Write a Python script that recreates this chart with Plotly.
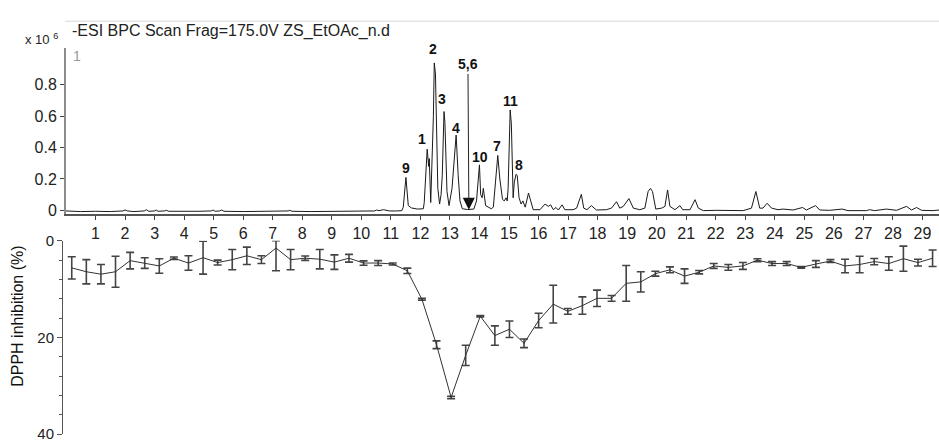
import plotly.graph_objects as go

W, H = 939, 446
FONT = "Liberation Sans, Arial, sans-serif"

# ---------------- BPC chromatogram ----------------
rt_min = [
    0.00, 0.50, 1.00, 1.50, 1.93, 2.00, 2.08, 2.30, 2.65, 2.72,
    2.80, 3.00, 3.05, 3.12, 3.33, 3.40, 3.48, 4.00, 4.50, 4.92,
    4.98, 5.05, 5.20, 5.27, 5.35, 6.00, 6.60, 7.10, 7.52, 7.58,
    7.65, 8.30, 9.00, 9.60, 10.20, 10.45, 10.52, 10.60, 10.75, 10.85,
    10.95, 11.20, 11.37,
    11.42, 11.51, 11.59, 11.70, 11.90, 12.10,
    12.13, 12.23, 12.28, 12.30, 12.35,
    12.39, 12.44, 12.47, 12.51, 12.59, 12.65,
    12.70, 12.74, 12.80, 12.83, 12.90, 12.97,
    13.07, 13.14, 13.21, 13.28, 13.34, 13.42, 13.60, 13.81,
    13.90, 14.00, 14.04, 14.09, 14.13, 14.21, 14.40, 14.47,
    14.52, 14.62, 14.69, 14.78, 14.84, 14.90, 14.94,
    14.97, 15.04, 15.08, 15.14,
    15.18, 15.24, 15.28, 15.34, 15.41, 15.47, 15.55, 15.66, 15.78,
    15.82, 16.05, 16.22, 16.33, 16.41, 16.50, 16.59, 16.67, 16.80, 16.89,
    17.17, 17.29, 17.45, 17.53, 17.64, 17.79, 17.96, 18.30, 18.47, 18.64,
    18.75, 18.87, 19.06, 19.21, 19.43, 19.60, 19.71, 19.79, 19.86, 19.97,
    20.17, 20.28, 20.37, 20.45, 20.62, 20.79, 20.88, 21.13, 21.30, 21.41,
    21.58, 22.03, 22.48, 22.93, 23.21, 23.36, 23.49, 23.60, 23.74, 23.89,
    24.11, 24.28, 24.62, 24.94, 25.07, 25.38, 25.52, 25.86, 26.28, 26.48,
    27.10, 27.21, 27.38, 27.78, 28.12, 28.46, 28.63, 28.80, 28.97, 29.36,
    29.56,
]
bpc_int = [  # x10^6
    -0.004, -0.008, -0.006, -0.008, -0.004, 0.002, -0.004, -0.008, -0.004, 0.004,
    -0.006, -0.004, 0.002, -0.006, -0.004, 0.000, -0.006, -0.008, -0.006, -0.004,
    0.002, -0.006, -0.004, 0.002, -0.006, -0.008, -0.006, -0.008, -0.004, 0.000,
    -0.006, -0.008, -0.006, -0.008, -0.006, -0.004, 0.002, -0.002, 0.004, -0.002,
    -0.004, -0.004, -0.002,
    0.020, 0.210, 0.030, 0.015, 0.008, 0.010,
    0.050, 0.390, 0.280, 0.330, 0.050,
    0.260, 0.600, 0.940, 0.870, 0.140, 0.040,
    0.100, 0.220, 0.630, 0.560, 0.120, 0.030,
    0.140, 0.300, 0.480, 0.220, 0.060, 0.010, 0.005, 0.008,
    0.060, 0.290, 0.100, 0.080, 0.140, 0.030, 0.010, 0.020,
    0.140, 0.350, 0.200, 0.070, 0.060, 0.080, 0.060,
    0.140, 0.640, 0.550, 0.080,
    0.180, 0.230, 0.220, 0.080, 0.040, 0.060, 0.020, 0.110, 0.020,
    0.004, 0.004, 0.040, 0.025, 0.035, 0.004, 0.018, 0.002, 0.035, 0.004,
    0.004, 0.014, 0.102, 0.014, 0.004, 0.030, 0.002, 0.004, 0.014, 0.055,
    0.014, 0.025, 0.075, 0.014, 0.004, 0.014, 0.120, 0.140, 0.120, 0.008,
    0.014, 0.025, 0.130, 0.025, 0.004, 0.030, 0.004, 0.004, 0.068, 0.014,
    -0.002, 0.000, -0.002, -0.002, 0.014, 0.120, 0.014, 0.014, 0.045, 0.014,
    0.004, 0.008, 0.002, 0.018, 0.002, 0.030, 0.002, 0.000, 0.008, -0.002,
    -0.002, 0.004, -0.002, 0.008, 0.000, 0.025, 0.002, 0.018, 0.000, -0.002,
    0.002,
]

peak_names = ["9", "1", "2", "3", "4", "5,6", "10", "7", "11", "8"]
peak_label_rt = [11.51, 12.04, 12.41, 12.74, 13.20, 13.61, 14.01, 14.58, 15.04, 15.33]
peak_label_y = [0.272, 0.457, 1.028, 0.712, 0.528, 0.898, 0.337, 0.409, 0.697, 0.288]
arrow_rt = 13.64

# ---------------- DPPH inhibition of fractions ----------------
fraction_no = list(range(1, 61))
dpph_inhib = [
    5.6, 6.4, 6.9, 6.4, 4.1, 4.6, 5.2, 3.6, 4.6, 3.5,
    4.5, 3.9, 3.1, 3.9, 1.5, 3.9, 3.6, 3.8, 4.4, 3.6,
    4.6, 4.6, 4.8, 6.2, 12.1, 21.5, 32.4, 23.7, 15.6, 19.6,
    18.3, 21.2, 16.5, 13.1, 14.6, 13.4, 11.9, 11.9, 8.8, 8.5,
    6.8, 6.0, 7.3, 6.5, 5.2, 5.5, 5.2, 4.0, 4.7, 4.7,
    5.5, 4.8, 4.2, 5.2, 4.9, 4.3, 4.7, 3.7, 4.5, 3.6,
]
dpph_err = [
    2.3, 2.5, 2.0, 3.2, 1.7, 1.1, 1.5, 0.25, 1.5, 3.4,
    0.5, 2.1, 1.8, 0.8, 4.7, 2.1, 0.45, 2.0, 1.5, 0.8,
    0.45, 0.5, 0.2, 0.55, 0.2, 0.8, 0.25, 2.1, 0.15, 2.0,
    1.7, 0.9, 1.5, 3.9, 0.6, 1.8, 1.7, 0.6, 3.7, 2.1,
    0.5, 0.6, 1.5, 0.35, 0.5, 0.6, 0.7, 0.3, 0.4, 0.4,
    0.15, 0.7, 0.3, 1.4, 1.7, 0.65, 1.4, 2.6, 0.7, 1.7,
]
dpph_err_minus = [
    2.3, 2.5, 2.0, 3.2, 1.7, 1.1, 1.5, 0.25, 1.5, 3.4,
    0.5, 2.1, 1.8, 0.8, 1.5, 2.1, 0.45, 2.0, 1.5, 0.8,
    0.45, 0.5, 0.2, 0.55, 0.2, 0.8, 0.25, 2.1, 0.15, 2.0,
    1.7, 0.9, 1.5, 3.9, 0.6, 1.8, 1.7, 0.6, 3.7, 2.1,
    0.5, 0.6, 1.5, 0.35, 0.5, 0.6, 0.7, 0.3, 0.4, 0.4,
    0.15, 0.7, 0.3, 1.4, 1.7, 0.65, 1.4, 2.6, 0.7, 1.7,
]

top_xticks = list(range(1, 30))
top_yticks = [0, 0.2, 0.4, 0.6, 0.8]
top_yticktext = ["0", "0.2", "0.4", "0.6", "0.8"]


def px_x(p):
    return p / W


def px_y(p):
    return 1 - p / H


fig = go.Figure()

fig.add_trace(go.Scatter(
    x=rt_min, y=bpc_int, mode="lines",
    line=dict(color="#1a1a1a", width=1),
    xaxis="x", yaxis="y", hoverinfo="skip", showlegend=False,
))
fig.add_trace(go.Scatter(
    x=[arrow_rt], y=[0.004], mode="markers",
    marker=dict(symbol="arrow-down", size=12, color="#111"),
    xaxis="x", yaxis="y", hoverinfo="skip", showlegend=False,
))
fig.add_trace(go.Scatter(
    x=fraction_no, y=dpph_inhib, mode="lines",
    line=dict(color="#333333", width=1),
    error_y=dict(type="data", symmetric=False, array=dpph_err,
                 arrayminus=dpph_err_minus, color="#444444",
                 thickness=1.6, width=4),
    xaxis="x2", yaxis="y2", hoverinfo="skip", showlegend=False,
))

annotations = []
for name, rx, ry in zip(peak_names, peak_label_rt, peak_label_y):
    if name == "5,6":
        continue
    annotations.append(dict(
        x=rx, y=ry, xref="x", yref="y", text="<b>" + name + "</b>",
        showarrow=False, font=dict(family=FONT, size=14, color="#111"),
        xanchor="center", yanchor="middle",
    ))

i56 = peak_names.index("5,6")
annotations.append(dict(
    x=arrow_rt, y=0.05, xref="x", yref="y", text="<b>5,6</b>",
    showarrow=True, arrowhead=0, arrowwidth=1, arrowcolor="#222",
    ax=(peak_label_rt[i56] - arrow_rt) * 29.53, ay=-138,
    font=dict(family=FONT, size=14, color="#111"),
))

annotations += [
    dict(x=px_x(70), y=px_y(23), xref="paper", yref="paper",
         text="-ESI BPC Scan Frag=175.0V ZS_EtOAc_n.d", showarrow=False,
         xanchor="left", yanchor="middle",
         font=dict(family=FONT, size=16, color="#222")),
    dict(x=px_x(60), y=px_y(31), xref="paper", yref="paper",
         text="x 10 <sup>6</sup>", showarrow=False,
         xanchor="right", yanchor="middle",
         font=dict(family=FONT, size=13, color="#222")),
    dict(x=px_x(71), y=px_y(49), xref="paper", yref="paper",
         text="1", showarrow=False, xanchor="left", yanchor="middle",
         font=dict(family=FONT, size=14, color="#999")),
    dict(x=px_x(18), y=px_y(320), xref="paper", yref="paper",
         text="DPPH inhibition (%)", showarrow=False, textangle=-90,
         xanchor="center", yanchor="middle",
         font=dict(family=FONT, size=16, color="#111")),
]

fig.update_layout(
    width=W, height=H, autosize=False,
    margin=dict(l=0, r=0, t=0, b=0),
    paper_bgcolor="white", plot_bgcolor="white",
    showlegend=False,
    font=dict(family=FONT, color="#222"),
    xaxis=dict(
        domain=[px_x(66), 1], range=[0, 29.56], anchor="y",
        tickmode="array", tickvals=top_xticks,
        ticks="outside", ticklen=4, tickcolor="#444", tickwidth=1,
        showline=True, linecolor="#555", linewidth=2,
        showgrid=False, zeroline=False,
        tickfont=dict(family=FONT, size=16, color="#222"),
    ),
    yaxis=dict(
        domain=[px_y(213), px_y(41)], range=[-0.0227, 1.0325], anchor="x",
        tickmode="array", tickvals=top_yticks, ticktext=top_yticktext,
        ticks="outside", ticklen=4, tickcolor="#444",
        showline=True, linecolor="#8c8c8c", linewidth=2,
        showgrid=False, zeroline=False,
        tickfont=dict(family=FONT, size=16, color="#222"),
    ),
    xaxis2=dict(
        domain=[px_x(63), 1], range=[0.40, 60.44], anchor="y2",
        visible=False, showgrid=False, zeroline=False,
    ),
    yaxis2=dict(
        domain=[px_y(442), px_y(241)], range=[40, 0], anchor="x2",
        tickmode="linear", tick0=0, dtick=20,
        ticks="outside", ticklen=5, tickcolor="#555",
        minor=dict(tickmode="linear", tick0=0, dtick=4, ticks="outside",
                   ticklen=3, tickcolor="#555", showgrid=False),
        showline=True, linecolor="#555", linewidth=1,
        showgrid=False, zeroline=False,
        tickfont=dict(family=FONT, size=15, color="#222"),
    ),
    annotations=annotations,
    shapes=[dict(type="line", xref="paper", yref="paper",
                 x0=px_x(65), x1=1, y0=px_y(12.7), y1=px_y(12.7),
                 line=dict(color="#d9d9d9", width=1))],
)

fig.write_html(
    "out.html",
    config={"displayModeBar": False},
    post_script="document.body.style.margin='0';document.body.style.overflow='hidden';",
)
